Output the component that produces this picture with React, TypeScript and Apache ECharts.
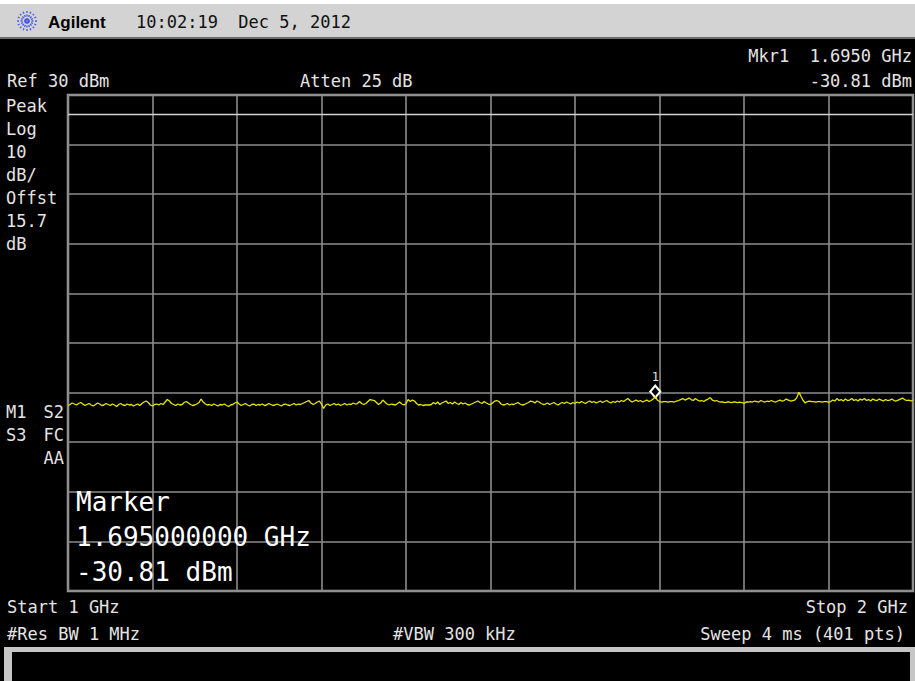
import React, { useEffect, useRef } from "react";
import * as echarts from "echarts";

// Sweep settings
const startGHz = 1;
const stopGHz = 2;
const refLevel = 30; // dBm (top of graticule)
const dbPerDiv = 10;
const yTicks = [30, 20, 10, 0, -10, -20, -30, -40, -50, -60, -70];
const displayLineDbm = 26.2;

// Marker
const markerFreqGHz = 1.695;
const markerLevel = -30.81;

// Trace (401 points, dBm)
const traceDbm: number[] = [
  -32.6,-32.4,-32.1,-32.3,-32.5,-32.2,-32.0,-32.3,-32.6,-32.4,-32.2,-32.5,-32.7,-32.4,-32.1,-32.3,-32.6,-32.5,-32.2,-32.4,
  -32.6,-32.3,-32.5,-32.8,-32.4,-32.2,-32.5,-32.6,-32.3,-32.5,-32.4,-32.7,-32.5,-32.3,-32.6,-32.2,-31.9,-31.7,-32.0,-32.5,
  -32.7,-32.4,-32.3,-32.5,-32.2,-32.4,-31.9,-31.4,-31.7,-32.2,-32.4,-32.6,-32.3,-32.5,-32.4,-32.0,-31.8,-32.1,-32.4,-32.6,
  -32.5,-32.3,-32.0,-31.3,-31.9,-32.3,-32.5,-32.4,-32.6,-32.3,-32.5,-32.7,-32.4,-32.5,-32.3,-32.6,-32.8,-32.5,-32.4,-32.1,
  -31.9,-32.3,-32.6,-32.4,-32.2,-32.5,-32.7,-32.4,-32.3,-32.6,-32.4,-32.5,-32.3,-32.6,-32.5,-32.2,-32.4,-32.6,-32.5,-32.3,
  -32.5,-32.7,-32.4,-32.3,-32.5,-32.6,-32.4,-32.2,-32.5,-32.3,-32.4,-32.2,-32.0,-31.8,-31.6,-32.1,-32.4,-32.2,-31.9,-31.7,
  -32.3,-33.2,-32.5,-32.3,-32.6,-32.4,-32.2,-32.5,-32.3,-32.6,-32.4,-32.2,-32.5,-32.3,-32.4,-32.1,-32.3,-32.2,-31.8,-32.2,
  -32.4,-32.2,-31.8,-31.4,-31.5,-31.6,-32.0,-32.4,-32.1,-31.5,-31.9,-32.3,-32.5,-32.3,-32.4,-32.5,-32.2,-31.9,-32.3,-32.5,
  -32.2,-31.4,-31.8,-31.5,-31.7,-32.2,-32.5,-32.4,-32.6,-32.5,-32.5,-32.5,-32.4,-32.0,-32.3,-31.9,-32.4,-32.1,-31.9,-31.7,
  -32.2,-32.0,-32.3,-31.9,-32.2,-32.4,-32.0,-32.3,-32.1,-32.4,-32.5,-32.3,-32.1,-31.9,-31.7,-32.0,-32.2,-31.8,-32.1,-32.3,
  -32.4,-32.1,-31.7,-31.6,-31.8,-32.3,-32.5,-32.4,-32.2,-32.5,-32.3,-32.4,-32.2,-32.0,-32.3,-32.5,-32.4,-32.2,-32.0,-31.7,
  -31.8,-32.1,-31.7,-31.9,-32.2,-32.4,-32.3,-32.1,-32.4,-32.2,-32.0,-32.3,-32.5,-32.2,-32.0,-32.2,-31.9,-32.1,-32.3,-32.0,
  -32.2,-31.9,-32.1,-31.8,-32.0,-32.2,-31.9,-31.7,-32.0,-31.8,-32.1,-31.9,-31.7,-32.0,-31.8,-31.6,-31.9,-32.1,-31.8,-32.0,
  -31.7,-31.9,-31.6,-31.8,-31.5,-31.2,-31.6,-31.9,-31.7,-31.5,-31.8,-31.6,-31.9,-31.7,-31.5,-31.8,-31.6,-31.3,-30.81,-31.5,
  -31.8,-31.9,-31.8,-31.8,-31.9,-31.8,-31.8,-31.9,-31.7,-31.6,-31.4,-31.2,-31.5,-31.3,-31.1,-31.4,-31.6,-31.2,-31.5,-31.7,
  -31.6,-31.8,-31.5,-31.3,-31.0,-31.5,-31.7,-31.6,-31.8,-31.9,-31.9,-32.0,-31.9,-31.9,-32.0,-31.9,-31.9,-32.0,-31.9,-32.0,
  -32.2,-31.9,-31.9,-31.8,-31.9,-31.7,-31.8,-31.9,-31.6,-31.8,-31.9,-31.7,-31.8,-31.6,-31.8,-31.9,-31.7,-31.5,-31.7,-31.6,
  -31.3,-31.5,-31.7,-31.6,-31.5,-31.0,-29.95,-30.8,-31.6,-32.1,-31.8,-31.7,-31.8,-31.8,-31.9,-31.8,-31.8,-31.9,-31.8,-31.8,
  -31.9,-31.8,-31.5,-31.7,-31.2,-31.6,-31.4,-31.7,-31.3,-31.6,-31.5,-31.2,-31.6,-31.4,-31.7,-31.3,-31.5,-31.2,-31.6,-31.4,
  -31.7,-31.3,-31.5,-31.6,-31.3,-31.5,-31.7,-31.4,-31.6,-31.5,-31.3,-31.6,-31.7,-31.5,-31.3,-31.1,-31.4,-31.6,-31.5,-31.7,-31.5,
];

// Annotation texts
const headerTime = "10:02:19  Dec 5, 2012";
const leftColumn = ["Peak", "Log", "10", "dB/", "Offst", "15.7", "dB"];
const markerBig = ["Marker", "1.695000000 GHz", "-30.81 dBm"];

const W = 915;
const H = 681;
const GRID = { left: 68, top: 95, width: 845, height: 496 };

const MONO = "DejaVu Sans Mono";
const TXT = "#e4e4e4";

function txt(
  text: string,
  x: number,
  baseline: number,
  size: number,
  align: "left" | "right" | "center" = "left",
  fill = TXT,
  family = MONO,
  weight = "normal"
) {
  return {
    type: "text",
    z: 100,
    style: {
      text,
      x,
      y: baseline - size * 0.33,
      fill,
      font: `${weight} ${size}px "${family}"`,
      textAlign: align,
      textVerticalAlign: "middle",
    },
  };
}

export default function App() {
  const ref = useRef<HTMLDivElement>(null);

  useEffect(() => {
    if (!ref.current) return;
    const chart = echarts.init(ref.current, undefined, { renderer: "svg" });
    const n = traceDbm.length;
    const data = traceDbm.map((v, i) => [
      startGHz + ((stopGHz - startGHz) * i) / (n - 1),
      v,
    ]);

    // Agilent starburst logo
    const cx = 27;
    const cy = 21;
    const logo: any[] = [];
    for (let k = 0; k < 8; k++) {
      const a = (Math.PI * k) / 8;
      logo.push({
        type: "line",
        z: 100,
        shape: {
          x1: cx - 10 * Math.cos(a),
          y1: cy - 10 * Math.sin(a),
          x2: cx + 10 * Math.cos(a),
          y2: cy + 10 * Math.sin(a),
        },
        style: { stroke: "#4c5de6", lineWidth: 1.4, lineDash: [2, 1.6] },
      });
    }

    const graphics: any[] = [
      { type: "rect", z: 1, shape: { x: 0, y: 0, width: W, height: 4 }, style: { fill: "#ffffff" } },
      { type: "rect", z: 1, shape: { x: 0, y: 4, width: W, height: 33 }, style: { fill: "#d3d3d3" } },
      { type: "rect", z: 1, shape: { x: 0, y: 37, width: W, height: 2 }, style: { fill: "#6e6e6e" } },
      { type: "rect", z: 1, shape: { x: 4, y: 647, width: W - 4, height: H - 647 }, style: { fill: "#c6c6c6" } },
      { type: "rect", z: 2, shape: { x: 12, y: 652, width: 898, height: H - 652 }, style: { fill: "#000000" } },
      ...logo,
      txt("Agilent", 48, 28, 17, "left", "#000000", "Liberation Sans", "bold"),
      txt(headerTime, 136, 28, 17, "left", "#111111"),
      txt("Mkr1  1.6950 GHz", 912, 62, 17, "right"),
      txt("Ref 30 dBm", 7, 87, 17),
      txt("Atten 25 dB", 300, 87, 17),
      txt("-30.81 dBm", 912, 87, 17, "right"),
      ...leftColumn.map((s, i) => txt(s, 6, 112 + i * 23, 17)),
      txt("M1", 6, 418, 17),
      txt("S2", 64, 418, 17, "right"),
      txt("S3", 6, 441, 17),
      txt("FC", 64, 441, 17, "right"),
      txt("AA", 64, 464, 17, "right"),
      ...markerBig.map((s, i) => txt(s, 76, 511 + i * 35, 26, "left", "#ffffff")),
      txt("Start 1 GHz", 7, 613, 17),
      txt("Stop 2 GHz", 908, 613, 17, "right"),
      txt("#Res BW 1 MHz", 7, 640, 17),
      txt("#VBW 300 kHz", 393, 640, 17),
      txt("Sweep 4 ms (401 pts)", 905, 640, 17, "right"),
    ];

    chart.setOption({
      animation: false,
      backgroundColor: "#000000",
      grid: {
        ...GRID,
        show: true,
        borderColor: "#9a9a9a",
        borderWidth: 2.5,
        backgroundColor: "transparent",
      },
      xAxis: {
        type: "value",
        min: startGHz,
        max: stopGHz,
        interval: 0.1,
        axisLine: { show: false },
        axisTick: { show: false },
        axisLabel: { show: false },
        splitLine: { show: true, lineStyle: { color: "#8c8c8c", width: 1.6 } },
      },
      yAxis: {
        type: "value",
        min: yTicks[yTicks.length - 1],
        max: refLevel,
        interval: dbPerDiv,
        axisLine: { show: false },
        axisTick: { show: false },
        axisLabel: { show: false },
        splitLine: { show: true, lineStyle: { color: "#8c8c8c", width: 1.6 } },
      },
      graphic: graphics,
      series: [
        {
          type: "line",
          data,
          showSymbol: false,
          z: 5,
          lineStyle: { color: "#e6e600", width: 1.3 },
          markLine: {
            silent: true,
            symbol: "none",
            label: { show: false },
            lineStyle: { color: "#d2d2d2", width: 1.4, type: "solid" },
            data: [{ yAxis: displayLineDbm }],
          },
          markPoint: {
            silent: true,
            data: [
              {
                coord: [markerFreqGHz, markerLevel],
                symbol: "diamond",
                symbolSize: [10, 12],
                symbolOffset: [0, -5],
                itemStyle: { color: "#000000", borderColor: "#ffffff", borderWidth: 2 },
                label: {
                  show: true,
                  formatter: "1",
                  position: "top",
                  distance: 2,
                  color: "#e0e0e0",
                  fontSize: 12,
                  fontFamily: MONO,
                },
              },
            ],
          },
        },
      ],
    });

    return () => chart.dispose();
  }, []);

  return (
    <div
      ref={ref}
      style={{ position: "absolute", left: 0, top: 0, width: W, height: H }}
    />
  );
}
